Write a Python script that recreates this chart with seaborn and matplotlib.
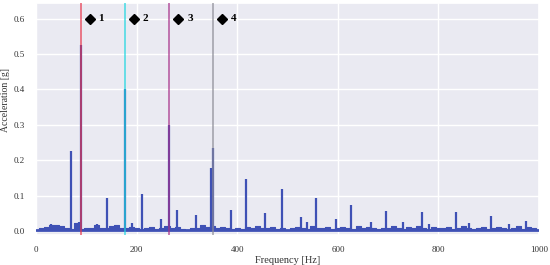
import numpy as np
import pandas as pd
import matplotlib
matplotlib.use('Agg')
import matplotlib.pyplot as plt
import seaborn as sns

# noise floor of the spectrum, every 10 Hz from 0 to 1000
floor_freq = list(range(0, 1010, 10))
floor_amp = [0.004, 0.010, 0.012, 0.016, 0.018, 0.014, 0.008, 0.006, 0.022, 0.006,
             0.010, 0.008, 0.016, 0.010, 0.008, 0.014, 0.018, 0.010, 0.008, 0.012,
             0.008, 0.006, 0.010, 0.012, 0.006, 0.010, 0.014, 0.008, 0.012, 0.006,
             0.004, 0.010, 0.008, 0.016, 0.012, 0.014, 0.008, 0.012, 0.010, 0.006,
             0.008, 0.006, 0.012, 0.010, 0.014, 0.008, 0.010, 0.012, 0.006, 0.008,
             0.004, 0.010, 0.012, 0.008, 0.006, 0.014, 0.008, 0.010, 0.012, 0.006,
             0.008, 0.012, 0.010, 0.006, 0.014, 0.008, 0.012, 0.008, 0.006, 0.010,
             0.008, 0.014, 0.010, 0.006, 0.012, 0.008, 0.014, 0.008, 0.006, 0.012,
             0.010, 0.008, 0.012, 0.006, 0.010, 0.014, 0.008, 0.006, 0.010, 0.012,
             0.006, 0.008, 0.012, 0.010, 0.006, 0.008, 0.014, 0.006, 0.012, 0.010,
             0.004]

# discrete peaks [Hz] and their amplitude [g]
peak_freq = [30, 70, 85, 88, 120, 140, 176, 190, 210, 249, 264, 280, 317,
             348, 352, 388, 418, 455, 488, 527, 538, 557, 596, 626, 665,
             696, 730, 767, 781, 835, 860, 905, 940, 974]
peak_amp = [0.020, 0.227, 0.025, 0.525, 0.020, 0.093, 0.400, 0.022, 0.106, 0.035,
            0.300, 0.060, 0.047, 0.178, 0.234, 0.060, 0.148, 0.052, 0.120, 0.040,
            0.026, 0.093, 0.035, 0.073, 0.025, 0.057, 0.025, 0.055, 0.020, 0.055,
            0.022, 0.044, 0.020, 0.030]

# marked harmonics
harm_freq = [88, 176, 264, 352]
harm_labels = ['1', '2', '3', '4']
harm_colors = ['#e8344a', '#1ed6df', '#a8308a', '#8c8c96']

spec_color = '#3f51b5'

sns.set_theme(style='darkgrid')
plt.rcParams['font.family'] = ['Liberation Serif', 'DejaVu Serif']

fig, ax = plt.subplots(figsize=(5.5, 2.65), dpi=100)
fig.subplots_adjust(left=0.066, right=0.98, top=0.99, bottom=0.113)

df = pd.DataFrame({'freq': floor_freq, 'amp': floor_amp})
ax.fill_between(df['freq'], 0, df['amp'], step='mid', color=spec_color, lw=0)
sns.lineplot(data=df, x='freq', y='amp', drawstyle='steps-mid',
             color=spec_color, lw=0.8, ax=ax)
ax.axhline(0.002, color=spec_color, lw=2, zorder=3)
ax.vlines(peak_freq, 0, peak_amp, color=spec_color, lw=1.6, zorder=3)

for f, lab, c in zip(harm_freq, harm_labels, harm_colors):
    ax.axvline(f, color=c, lw=1.2, alpha=0.75, zorder=4)
    ax.plot(f + 18, 0.6, marker='D', color='black', ms=5.5, zorder=5)
    ax.text(f + 36, 0.6, lab, fontsize=8, fontweight='bold',
            va='center', ha='left', color='black', zorder=5)

ax.set_xlim(0, 1000)
ax.set_ylim(-0.011, 0.645)
ax.set_xticks([0, 200, 400, 600, 800, 1000])
ax.set_yticks([0.0, 0.1, 0.2, 0.3, 0.4, 0.5, 0.6])
ax.set_yticklabels(['0.0', '0.1', '0.2', '0.3', '0.4', '0.5', '0.6'])
ax.tick_params(labelsize=6.5, pad=2, colors='#333333')
ax.set_xlabel('Frequency [Hz]', fontsize=7.5, labelpad=1, color='#333333')
ax.set_ylabel('Acceleration [g]', fontsize=7, color='#333333')
ax.yaxis.set_label_coords(-0.052, 0.58)

fig.savefig('out.png', dpi=100)
